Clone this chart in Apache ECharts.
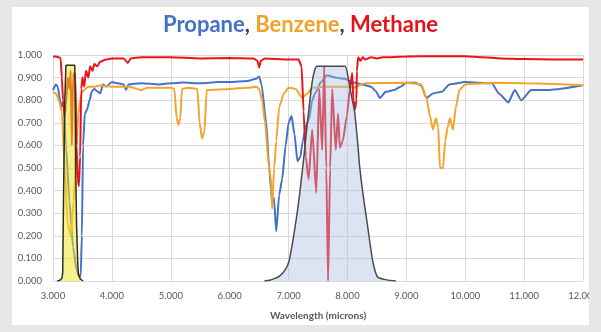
<!DOCTYPE html>
<html>
<head>
<meta charset="utf-8">
<script src="https://cdn.jsdelivr.net/npm/echarts@6/dist/echarts.min.js"></script>
<style>
  body { margin: 0; background: #e7e7e7; }
  #wrap { position: relative; width: 601px; height: 332px; overflow: hidden; background: #e7e7e7; }
  #panel { position: absolute; left: 12px; top: 7px; width: 577px; height: 318px; background: #fff; }
  #chart { position: absolute; left: 0; top: 0; width: 601px; height: 332px; }
  #edge { position: absolute; left: 589px; top: 0; width: 12px; height: 332px; background: #e7e7e7; }
</style>
</head>
<body>
<div id="wrap">
  <div id="panel"></div>
  <div id="chart"></div>
  <div id="edge"></div>
</div>
<script>
// spectra: [wavelength (microns), transmission]
const propane = [
  [3.00, 0.845], [3.05, 0.87], [3.08, 0.86], [3.12, 0.80], [3.15, 0.77], [3.18, 0.79],
  [3.22, 0.60], [3.28, 0.35], [3.34, 0.15], [3.40, 0.05], [3.45, 0.02], [3.47, 0.02],
  [3.49, 0.20], [3.51, 0.60], [3.54, 0.74], [3.58, 0.76], [3.62, 0.80], [3.66, 0.84],
  [3.70, 0.85], [3.75, 0.84], [3.80, 0.83], [3.85, 0.87], [3.90, 0.86], [4.00, 0.88],
  [4.10, 0.875], [4.20, 0.87], [4.24, 0.845], [4.28, 0.87], [4.50, 0.875], [4.80, 0.87],
  [5.00, 0.875], [5.20, 0.878], [5.50, 0.875], [5.80, 0.88], [6.00, 0.88], [6.30, 0.885],
  [6.45, 0.895], [6.50, 0.905], [6.54, 0.87], [6.62, 0.70], [6.67, 0.50], [6.72, 0.35],
  [6.75, 0.37], [6.79, 0.22], [6.84, 0.38], [6.89, 0.45], [6.95, 0.60], [7.00, 0.70],
  [7.05, 0.73], [7.10, 0.65], [7.15, 0.53], [7.20, 0.55], [7.24, 0.62], [7.30, 0.69],
  [7.35, 0.72], [7.40, 0.80], [7.45, 0.83], [7.55, 0.88], [7.65, 0.91], [7.80, 0.90],
  [7.95, 0.895], [8.10, 0.878], [8.25, 0.87], [8.40, 0.86], [8.48, 0.84], [8.55, 0.81],
  [8.65, 0.837], [8.79, 0.845], [8.90, 0.86], [9.00, 0.877], [9.15, 0.877], [9.25, 0.865],
  [9.34, 0.81], [9.45, 0.83], [9.60, 0.837], [9.73, 0.87], [10.00, 0.88], [10.45, 0.875],
  [10.57, 0.83], [10.73, 0.79], [10.84, 0.845], [10.95, 0.80], [11.12, 0.845],
  [11.40, 0.845], [11.60, 0.85], [12.00, 0.867]
];
const benzene = [
  [3.00, 0.835], [3.05, 0.83], [3.10, 0.80], [3.15, 0.75], [3.20, 0.50], [3.25, 0.25],
  [3.30, 0.20], [3.35, 0.35], [3.40, 0.60], [3.43, 0.74], [3.46, 0.80], [3.50, 0.84],
  [3.60, 0.86], [3.70, 0.86], [3.80, 0.865], [4.00, 0.86], [4.30, 0.86], [4.50, 0.845],
  [4.60, 0.855], [5.00, 0.855], [5.06, 0.85], [5.10, 0.72], [5.13, 0.69], [5.16, 0.72],
  [5.19, 0.85], [5.30, 0.855], [5.45, 0.85], [5.49, 0.70], [5.53, 0.63], [5.57, 0.66],
  [5.61, 0.845], [6.00, 0.85], [6.30, 0.855], [6.45, 0.86], [6.50, 0.85], [6.55, 0.80],
  [6.60, 0.70], [6.66, 0.52], [6.70, 0.45], [6.72, 0.32], [6.755, 0.50], [6.79, 0.62],
  [6.84, 0.77], [6.92, 0.83], [7.00, 0.855], [7.12, 0.85], [7.23, 0.81], [7.32, 0.83],
  [7.40, 0.855], [7.60, 0.86], [8.00, 0.86], [8.10, 0.855], [8.30, 0.875], [9.00, 0.877],
  [9.25, 0.87], [9.34, 0.81], [9.40, 0.73], [9.45, 0.67], [9.50, 0.72], [9.54, 0.68],
  [9.57, 0.50], [9.62, 0.50], [9.66, 0.62], [9.70, 0.68], [9.74, 0.72], [9.79, 0.67],
  [9.84, 0.77], [9.90, 0.845], [10.00, 0.87], [10.50, 0.877], [11.00, 0.875],
  [12.00, 0.867]
];
const methane = [
  [3.00, 0.993], [3.05, 0.993], [3.10, 0.99], [3.13, 0.985], [3.15, 0.90], [3.17, 0.80],
  [3.20, 0.73], [3.22, 0.78], [3.25, 0.90], [3.28, 0.85], [3.30, 0.93], [3.32, 0.60],
  [3.34, 0.90], [3.36, 0.92], [3.38, 0.90], [3.40, 0.60], [3.42, 0.45], [3.44, 0.42],
  [3.46, 0.55], [3.48, 0.85], [3.50, 0.90], [3.53, 0.86], [3.56, 0.93], [3.60, 0.90],
  [3.63, 0.95], [3.67, 0.93], [3.70, 0.96], [3.75, 0.95], [3.80, 0.97], [3.90, 0.98],
  [4.00, 0.985], [4.20, 0.985], [4.27, 0.965], [4.32, 0.985], [4.50, 0.99], [5.00, 0.99],
  [5.50, 0.985], [6.00, 0.987], [6.40, 0.985], [6.47, 0.975], [6.50, 0.945], [6.53, 0.975],
  [6.60, 0.985], [7.00, 0.98], [7.17, 0.98], [7.22, 0.95], [7.255, 0.75], [7.29, 0.55],
  [7.34, 0.45], [7.40, 0.67], [7.47, 0.39], [7.52, 0.85], [7.57, 0.58], [7.605, 0.95],
  [7.64, 0.50], [7.67, 0.00], [7.705, 0.50], [7.74, 0.85], [7.80, 0.58], [7.84, 0.74],
  [7.87, 0.59], [7.92, 0.62], [7.99, 0.73], [8.04, 0.85], [8.08, 0.92], [8.10, 0.80],
  [8.13, 0.76], [8.15, 0.80], [8.16, 0.93], [8.18, 0.99], [8.22, 0.975], [8.26, 0.99],
  [8.30, 0.98], [8.40, 0.99], [8.50, 0.985], [8.60, 0.99], [9.00, 0.993], [9.50, 0.995],
  [10.00, 0.995], [10.30, 0.99], [10.60, 0.985], [11.00, 0.982], [11.50, 0.98],
  [12.00, 0.98]
];
// filter pass bands
const filterA = [
  [3.07, 0], [3.13, 0.005], [3.155, 0.015], [3.165, 0.04], [3.18, 0.40], [3.20, 0.80],
  [3.22, 0.955], [3.37, 0.955], [3.375, 0.85], [3.385, 0.50], [3.40, 0.25], [3.42, 0.08],
  [3.43, 0.03], [3.46, 0.01], [3.51, 0]
];
const filterB = [
  [6.59, 0], [6.68, 0.003], [6.84, 0.02], [6.955, 0.055], [7.01, 0.09], [7.067, 0.17],
  [7.11, 0.24], [7.15, 0.31], [7.19, 0.39], [7.22, 0.46], [7.26, 0.55], [7.29, 0.63],
  [7.34, 0.75], [7.40, 0.88], [7.44, 0.93], [7.48, 0.95], [7.955, 0.95], [8.01, 0.90],
  [8.067, 0.82], [8.12, 0.75], [8.177, 0.60], [8.205, 0.51], [8.26, 0.39], [8.343, 0.24],
  [8.427, 0.09], [8.51, 0.018], [8.67, 0.005], [8.82, 0]
];

const chart = echarts.init(document.getElementById('chart'), null, { renderer: 'canvas' });
const labelColor = '#595959';
const gridColor = '#d9d9d9';
const titleFont = { fontSize: 22, fontWeight: 'bold', fontFamily: 'Lato' };

const lineSeries = (name, data, color) => ({
  name, type: 'line', data, showSymbol: false, smooth: 0.2, smoothMonotone: 'x',
  lineStyle: { color, width: 2 }, z: 2
});

chart.setOption({
  backgroundColor: 'transparent',
  animation: false,
  title: {
    text: '{p|Propane}{k|, }{b|Benzene}{k|, }{m|Methane}',
    left: 'center', top: 9,
    textStyle: {
      rich: {
        p: { color: '#4472c4', ...titleFont },
        k: { color: '#404040', ...titleFont },
        b: { color: '#f0a32a', ...titleFont },
        m: { color: '#e3131d', ...titleFont }
      }
    }
  },
  grid: { left: 53, right: 8, top: 55, bottom: 51 },
  xAxis: {
    type: 'value', min: 3, max: 12, interval: 1,
    name: 'Wavelength (microns)', nameLocation: 'middle', nameGap: 30,
    nameTextStyle: { color: labelColor, fontSize: 10, fontWeight: 'bold', fontFamily: 'Lato' },
    axisLine: { show: false }, axisTick: { show: false },
    axisLabel: { color: labelColor, fontSize: 9.5, margin: 10, fontFamily: 'Lato',
      formatter: v => v.toFixed(3) },
    splitLine: { show: true, lineStyle: { color: gridColor, width: 1 } }
  },
  yAxis: {
    type: 'value', min: 0, max: 1, interval: 0.1,
    axisLine: { show: false }, axisTick: { show: false },
    axisLabel: { color: labelColor, fontSize: 9.5, margin: 11, fontFamily: 'Lato',
      formatter: v => v.toFixed(3) },
    splitLine: { show: true, lineStyle: { color: gridColor, width: 1 } }
  },
  series: [
    lineSeries('Propane', propane, '#4472c4'),
    lineSeries('Benzene', benzene, '#f2a52c'),
    lineSeries('Methane', methane, '#ea1418'),
    {
      name: 'Filter 3.3', type: 'line', data: filterA, showSymbol: false, smooth: false, z: 5,
      lineStyle: { color: '#2e2e22', width: 1.5 },
      areaStyle: { color: 'rgba(240,228,30,0.72)', origin: 'start' }
    },
    {
      name: 'Filter 7.7', type: 'line', data: filterB, showSymbol: false, smooth: 0.2, z: 5,
      lineStyle: { color: '#4a4a4a', width: 1.5 },
      areaStyle: { color: 'rgba(172,190,227,0.6)', origin: 'start' }
    }
  ]
});
</script>
</body>
</html>
